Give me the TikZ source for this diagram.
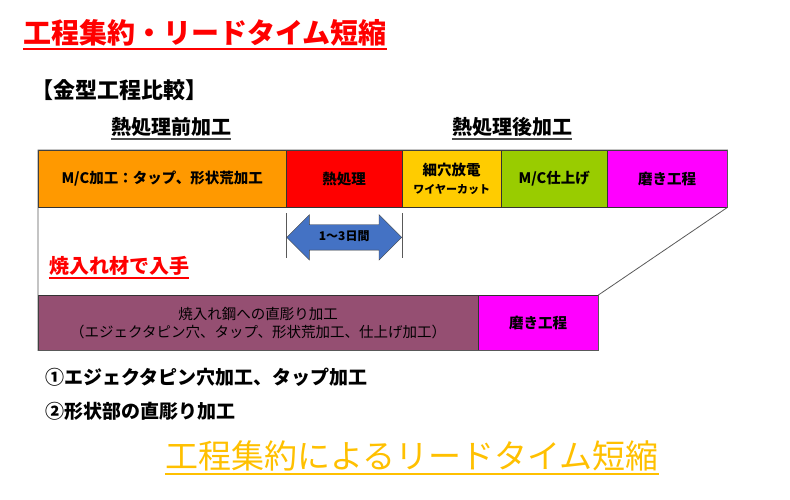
\documentclass[tikz,border=0pt]{standalone}
\usepackage{fontspec}
\setmainfont{Noto Sans CJK JP}
\usepackage{tikz}
\usetikzlibrary{positioning}
\usetikzlibrary{shapes.arrows}
\definecolor{mcorange}{HTML}{FF9900}
\definecolor{heatred}{HTML}{FF0000}
\definecolor{edmyellow}{HTML}{FFCC00}
\definecolor{mcgreen}{HTML}{99CC00}
\definecolor{polishpink}{HTML}{FF00FF}
\definecolor{digpurple}{HTML}{954F72}
\definecolor{arrowblue}{HTML}{4472C4}
\definecolor{goldtext}{HTML}{FFC000}
\tikzstyle{procbox}=[rectangle,draw=black!80,anchor=north west,inner sep=0pt,align=center,font=\bfseries\fontsize{14.5}{18}\selectfont]
\tikzstyle{heading}=[inner sep=0pt,font=\bfseries\fontsize{20}{24}\selectfont]
\tikzstyle{uline}=[draw,line width=1.5pt]
\tikzstyle{frame}=[draw=black!65,thick]
\tikzstyle{dblarrow}=[double arrow,draw=black!75,fill=arrowblue,minimum height=115pt,minimum width=45pt,double arrow head extend=10pt,inner ysep=6.5pt,text height=9pt,text depth=3pt,font=\bfseries\fontsize{12}{14}\selectfont]

\begin{document}
\begin{tikzpicture}[x=1pt,y=-1pt]
  \useasboundingbox (0,0) rectangle (790,499);

  % titles
  \node[inner sep=0pt,text=red,font=\bfseries\fontsize{28}{32}\selectfont] (title) at (205,33) {工程集約・リードタイム短縮};
  \path[uline,red,line width=2pt] ([yshift=-2pt]title.south west) -- ([yshift=-2pt]title.south east);
  \node[heading,font=\bfseries\fontsize{22}{26}\selectfont] (compare) at (119,90) {【金型工程比較】};
  \node[heading] (before) at (171,127) {熱処理前加工};
  \node[heading] (after) at (512,127) {熱処理後加工};
  \path[uline,black!70] ([yshift=-2pt]before.south west) -- ([yshift=-2pt]before.south east);
  \path[uline,black!70] ([yshift=-2pt]after.south west) -- ([yshift=-2pt]after.south east);

  % upper process row
  \foreach \x/\w/\name/\col/\label in {38/248/mc/mcorange/{M/C加工：タップ、形状荒加工}, 286/116/heat/heatred/{熱処理}, 402/99/edm/edmyellow/{細穴放電\\{\fontsize{11}{13}\selectfont ワイヤーカット}}, 501/106/finish/mcgreen/{M/C仕上げ}, 607/120/polish/polishpink/{磨き工程}}
          \node[procbox,fill=\col,minimum width=\w pt,minimum height=55pt+2pt] (\name) at (\x,150) {\label};

  % lower process row
  \foreach \x/\w/\name/\col/\label in {38/440/dig/digpurple/{\mdseries 焼入れ鋼への直彫り加工\\\mdseries （エジェクタピン穴、タップ、形状荒加工、仕上げ加工）}, 478/120/polishb/polishpink/{磨き工程}}
          \node[procbox,fill=\col,minimum width=\w pt,minimum height=55pt] (\name) at (\x,295) {\label};

  \path[frame] (mc.north west) -- (polish.north east) -- (polish.south east) -- (polishb.north east) -- (polishb.south east) -- (dig.south west) -- cycle;

  % heat treatment period
  \draw[black!65] (heat.south west) ++(0,6) -- ++(0,45);
  \draw[black!65] (heat.south east) ++(0,6) -- ++(0,45);
  \node[dblarrow] (days) at ([yshift=-30pt]heat.south) {1～3日間};

  \node[heading,text=red] (bought) at (119,266) {焼入れ材で入手};
  \path[uline,red] ([yshift=-2pt]bought.south west) -- ([yshift=-2pt]bought.south east);

  % notes
  \node[heading,anchor=west,font=\bfseries\fontsize{19}{23}\selectfont] (note1) at (45,377) {①エジェクタピン穴加工、タップ加工};
  \node[heading,anchor=west,font=\bfseries\fontsize{19}{23}\selectfont] (note2) at (45,411) {②形状部の直彫り加工};

  \node[inner sep=0pt,text=goldtext,font=\fontsize{33}{38}\selectfont] (result) at (412,456) {工程集約によるリードタイム短縮};
  \path[uline,goldtext,line width=2pt] ([yshift=-3pt]result.south west) -- ([yshift=-3pt]result.south east);

\end{tikzpicture}
\end{document}
